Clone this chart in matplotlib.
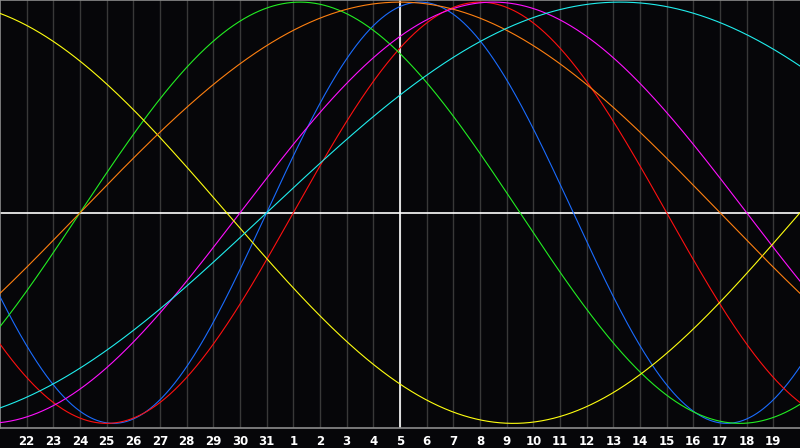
import matplotlib
matplotlib.use("Agg")
import matplotlib.pyplot as plt
import numpy as np

# Day labels along the bottom (30-day window, today = 5th in the middle)
DAY_LABELS = ["22", "23", "24", "25", "26", "27", "28", "29", "30", "31",
              "1", "2", "3", "4", "5", "6", "7", "8", "9", "10",
              "11", "12", "13", "14", "15", "16", "17", "18", "19"]
TODAY_INDEX = 15
N_DAYS = 30

# Cycle lengths (days) and the day index where each cycle crosses zero going up
CYCLE_PERIODS = [23, 28, 33, 38, 43, 48, 53]
CYCLE_ZERO_DAY = [10, 11, 3, 9, 30, 3, 10]
CYCLE_COLORS = ["#1a6cff", "#ff1010", "#22ee22", "#ff10ff", "#ffff10", "#ff8010", "#20eeee"]

BG = "#060609"
GRID = "#383838"
FRAME = "#8c8c8c"


def main() -> None:
    fig = plt.figure(figsize=(8.0, 4.48), dpi=100, facecolor=BG)
    ax = fig.add_axes([0.0, 20 / 448, 1.0, 428 / 448])
    ax.set_facecolor(BG)

    ax.set_xlim(0, N_DAYS)
    ax.set_ylim(-1.022, 1.010)

    # day grid
    for k in range(1, N_DAYS):
        ax.axvline(k, color=GRID, lw=1.0, zorder=1)

    ax.axhline(0, color="white", lw=1.2, zorder=2)
    ax.axvline(TODAY_INDEX, color="white", lw=1.2, zorder=2)

    t = np.linspace(0, N_DAYS, 1200)
    for period, zero_day, color in zip(CYCLE_PERIODS, CYCLE_ZERO_DAY, CYCLE_COLORS):
        values = np.sin(2 * np.pi * (t - zero_day) / period)
        ax.plot(t, values, color=color, lw=0.8, zorder=3)

    ax.set_xticks(range(1, N_DAYS))
    ax.set_xticklabels(DAY_LABELS, color="white", fontsize=8.5, fontweight="bold",
                       family="DejaVu Sans")
    ax.tick_params(axis="x", length=0, pad=5)
    ax.set_yticks([])

    for side in ("top", "left", "bottom"):
        ax.spines[side].set_color(FRAME)
        ax.spines[side].set_linewidth(1.2)
    ax.spines["right"].set_visible(False)

    fig.savefig("out.png", dpi=100, facecolor=BG)


if __name__ == "__main__":
    main()
